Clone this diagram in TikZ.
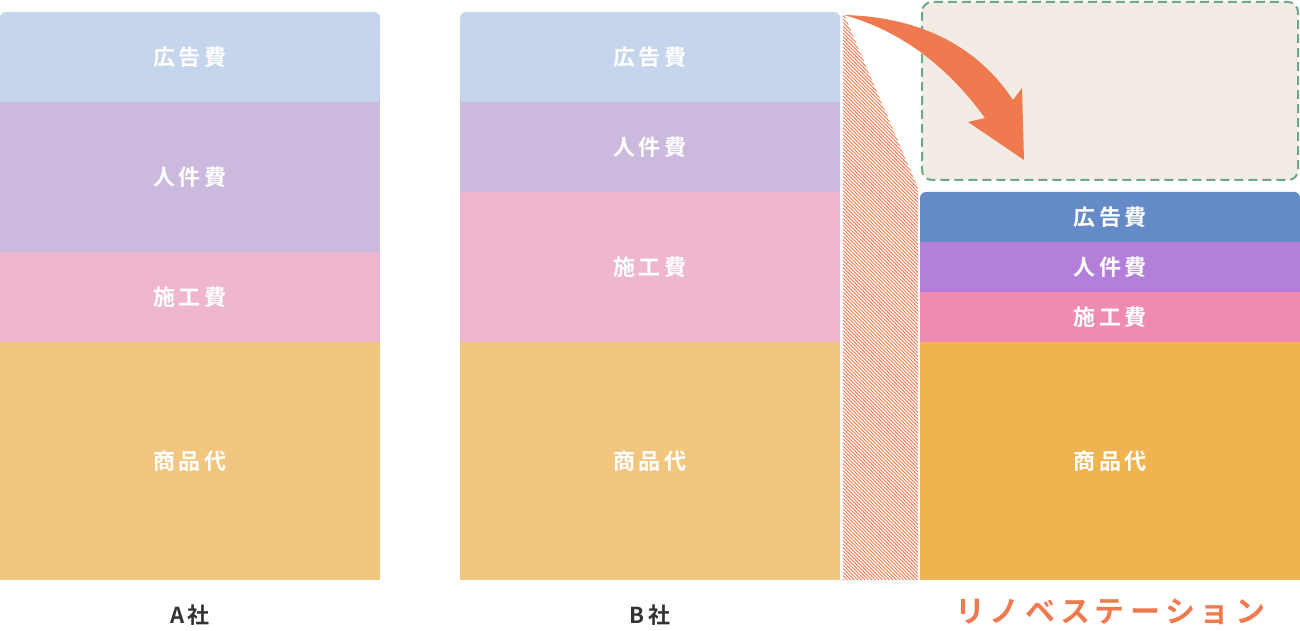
\documentclass[tikz,border=0pt]{standalone}
\usepackage{fontspec}
\newfontfamily\jp{Noto Sans CJK JP Bold}
\begin{document}
\begin{tikzpicture}[x=1pt,y=-1pt,
 lbl/.style={text=white,font=\jp\fontsize{22}{22}\selectfont},
 captxt/.style={font=\jp\fontsize{22}{22}\selectfont,text=black!80}]
\definecolor{ad}{HTML}{C5D5EC}\definecolor{hr}{HTML}{CBBADE}
\definecolor{co}{HTML}{EFB7CF}\definecolor{gd}{HTML}{F3C680}
\definecolor{adD}{HTML}{648BC8}\definecolor{hrD}{HTML}{B47FDB}
\definecolor{coD}{HTML}{EF8AB2}\definecolor{gdD}{HTML}{EFB34F}
\definecolor{orn}{HTML}{F07A50}\definecolor{grn}{HTML}{6BAA88}
\definecolor{bg}{HTML}{F2ECE4}
\useasboundingbox (0,0) rectangle (1300,631);
% A
\fill[ad,rounded corners=6pt] (0,12) rectangle (380,60);
\fill[ad] (0,40) rectangle (380,102);
\fill[hr] (0,102) rectangle (380,252);
\fill[co] (0,252) rectangle (380,342);
\fill[gd] (0,342) rectangle (380,580);
\node[lbl] (a1) at (190,57) {広\,告\,費};
\node[lbl] (a2) at (190,177) {人\,件\,費};
\node[lbl] (a3) at (190,297) {施\,工\,費};
\node[lbl] (a4) at (190,461) {商\,品\,代};
% B
\fill[ad,rounded corners=6pt] (460,12) rectangle (840,60);
\fill[ad] (460,40) rectangle (840,102);
\fill[hr] (460,102) rectangle (840,192);
\fill[co] (460,192) rectangle (840,342);
\fill[gd] (460,342) rectangle (840,580);
\node[lbl] (b1) at (650,57) {広\,告\,費};
\node[lbl] (b2) at (650,147) {人\,件\,費};
\node[lbl] (b3) at (650,267) {施\,工\,費};
\node[lbl] (b4) at (650,461) {商\,品\,代};
% hatch
\begin{scope}
\clip (843,12) -- (918,188) -- (918,580) -- (843,580) -- cycle;
\foreach \i in {0,3.5,...,660} \draw[orn,line width=0.8pt] (843,12+\i) -- (918,87+\i);
\end{scope}
% dashed box
\draw[grn,fill=bg,dash pattern=on 9pt off 5pt,line width=2pt,rounded corners=10pt] (922,2) rectangle (1298,180);
% right column
\fill[adD,rounded corners=6pt] (920,192) rectangle (1300,230);
\fill[adD] (920,215) rectangle (1300,242);
\fill[hrD] (920,242) rectangle (1300,292);
\fill[coD] (920,292) rectangle (1300,342);
\fill[gdD] (920,342) rectangle (1300,580);
\node[lbl] (c1) at (1110,217) {広\,告\,費};
\node[lbl] (c2) at (1110,267) {人\,件\,費};
\node[lbl] (c3) at (1110,317) {施\,工\,費};
\node[lbl] (c4) at (1110,461) {商\,品\,代};
% arrow
\fill[orn] (844,15) .. controls (925,17) and (980,50) .. (1013,100) -- (1022,88) -- (1024,160) -- (968,122) -- (985,118) .. controls (950,70) and (905,32) .. (844,15) -- cycle;
% captions
\node[captxt] (ca) at (190,615) {A\,社};
\node[captxt] (cb) at (650,615) {B\,社};
\node[font=\jp\fontsize{30}{30}\selectfont,text=orn] (cr) at (1110,612) {リ\,ノ\,ベ\,ス\,テ\,ー\,シ\,ョ\,ン};
\end{tikzpicture}
\end{document}
